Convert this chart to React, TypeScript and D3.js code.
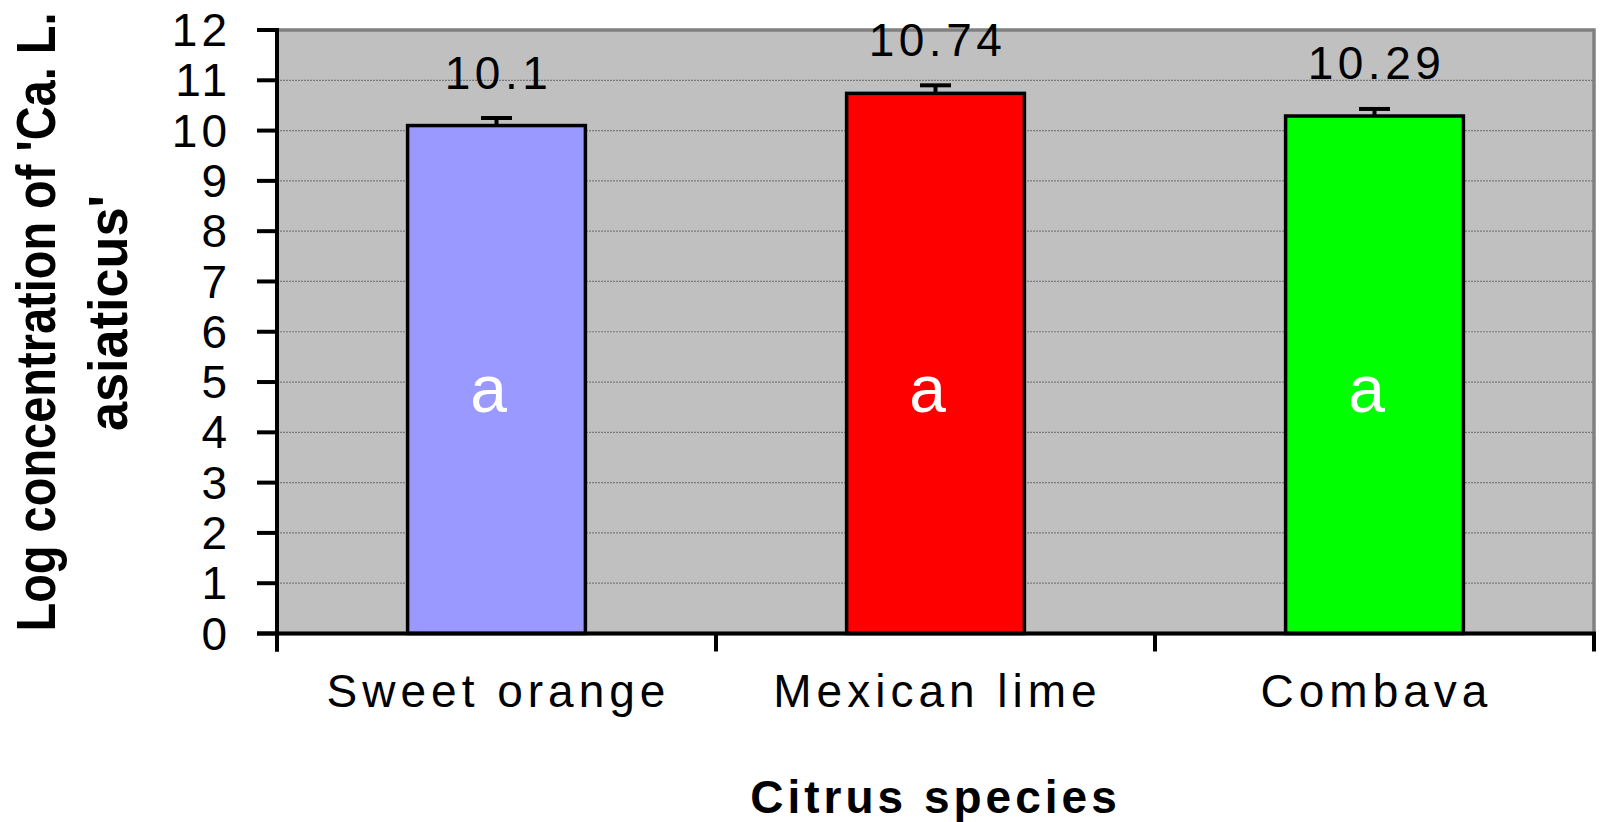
import React, { useEffect } from "react";
import * as d3 from "d3";

// Citrus species and their mean log concentration of 'Ca. L. asiaticus'
const categories = ["Sweet orange", "Mexican lime", "Combava"];
const means = [10.1, 10.74, 10.29];
const stdErrors = [0.15, 0.16, 0.14];
const valueLabels = ["10.1", "10.74", "10.29"];
const groupLetters = ["a", "a", "a"];
const yTickValues = [0, 1, 2, 3, 4, 5, 6, 7, 8, 9, 10, 11, 12];

const barColors = ["#9999FF", "#FF0000", "#00FF00"];

const W = 1602;
const H = 822;
const plot = { left: 277, right: 1594, top: 30, bottom: 633.5 };
const FONT = "'Liberation Sans', Arial, Helvetica, sans-serif";

export default function App() {
  useEffect(() => {
    document.body.style.margin = "0";
  }, []);

  const x = d3
    .scaleBand<string>()
    .domain(categories)
    .range([plot.left, plot.right])
    .padding(0);
  const y = d3.scaleLinear().domain([0, 12]).range([plot.bottom, plot.top]);

  const step = x.bandwidth();
  const barW = step * 0.405;
  const cx = (c: string) => (x(c) as number) + step / 2;
  const capW = 31;
  const axisStroke = 4;

  const xTickPositions = [...categories.map((c) => x(c) as number), plot.right];

  return (
    <svg
      width={W}
      height={H}
      style={{ position: "absolute", left: 0, top: 0, background: "#fff" }}
      fontFamily={FONT}
    >
      {/* plot area */}
      <rect
        x={plot.left}
        y={plot.top}
        width={plot.right - plot.left}
        height={plot.bottom - plot.top}
        fill="#C0C0C0"
        stroke="#808080"
        strokeWidth={3.5}
      />

      {/* dotted horizontal gridlines */}
      {yTickValues
        .filter((t) => t > 0 && t < 12)
        .map((t) => (
          <line
            key={`g${t}`}
            x1={plot.left}
            x2={plot.right}
            y1={y(t)}
            y2={y(t)}
            stroke="#7a7a7a"
            strokeWidth={1.2}
            strokeDasharray="2 1"
          />
        ))}

      {/* error bars (upper half) */}
      {categories.map((c, i) => {
        const top = y(means[i] + stdErrors[i]);
        return (
          <g key={`e${c}`} stroke="#000" strokeWidth={4}>
            <line x1={cx(c)} x2={cx(c)} y1={y(means[i])} y2={top} />
            <line x1={cx(c) - capW / 2} x2={cx(c) + capW / 2} y1={top} y2={top} />
          </g>
        );
      })}

      {/* bars */}
      {categories.map((c, i) => (
        <rect
          key={`b${c}`}
          x={cx(c) - barW / 2}
          y={y(means[i])}
          width={barW}
          height={y(0) - y(means[i])}
          fill={barColors[i]}
          stroke="#000"
          strokeWidth={3.5}
        />
      ))}

      {/* value labels above bars */}
      {categories.map((c, i) => (
        <text
          key={`v${c}`}
          x={cx(c) + 2}
          y={y(means[i]) - 37}
          textAnchor="middle"
          fontSize={46}
          letterSpacing={4.5}
          fill="#000"
        >
          {valueLabels[i]}
        </text>
      ))}

      {/* significance letters inside bars */}
      {categories.map((c, i) => (
        <text
          key={`l${c}`}
          x={cx(c) - 8}
          y={412}
          textAnchor="middle"
          fontSize={66}
          fill="#fff"
        >
          {groupLetters[i]}
        </text>
      ))}

      {/* y axis */}
      <line
        x1={plot.left}
        x2={plot.left}
        y1={plot.top - 2}
        y2={plot.bottom + 18}
        stroke="#000"
        strokeWidth={axisStroke}
      />
      {yTickValues.map((t) => (
        <g key={`yt${t}`}>
          <line
            x1={plot.left - 20}
            x2={plot.left}
            y1={y(t)}
            y2={y(t)}
            stroke="#000"
            strokeWidth={axisStroke}
          />
          <text
            x={231}
            y={y(t)}
            dy="0.35em"
            textAnchor="end"
            fontSize={46}
            letterSpacing={4}
            fill="#000"
          >
            {t}
          </text>
        </g>
      ))}

      {/* x axis */}
      <line
        x1={plot.left - 20}
        x2={plot.right + 2}
        y1={plot.bottom}
        y2={plot.bottom}
        stroke="#000"
        strokeWidth={axisStroke}
      />
      {xTickPositions.map((p, i) => (
        <line
          key={`xt${i}`}
          x1={p}
          x2={p}
          y1={plot.bottom}
          y2={plot.bottom + 18}
          stroke="#000"
          strokeWidth={axisStroke}
        />
      ))}
      {categories.map((c) => (
        <text
          key={`xl${c}`}
          x={cx(c) + 2}
          y={707}
          textAnchor="middle"
          fontSize={46}
          letterSpacing={5}
          fill="#000"
        >
          {c}
        </text>
      ))}

      {/* axis titles */}
      <text
        x={(plot.left + plot.right) / 2}
        y={813}
        textAnchor="middle"
        fontSize={46}
        fontWeight="bold"
        letterSpacing={4}
        fill="#000"
      >
        Citrus species
      </text>
      <text
        transform="translate(55,322) rotate(-90)"
        textAnchor="middle"
        fontSize={56}
        fontWeight="bold"
        textLength={619}
        lengthAdjust="spacingAndGlyphs"
        fill="#000"
      >
        Log concentration of 'Ca. L.
      </text>
      <text
        transform="translate(127,313) rotate(-90)"
        textAnchor="middle"
        fontSize={56}
        fontWeight="bold"
        textLength={236}
        lengthAdjust="spacingAndGlyphs"
        fill="#000"
      >
        asiaticus'
      </text>
    </svg>
  );
}
